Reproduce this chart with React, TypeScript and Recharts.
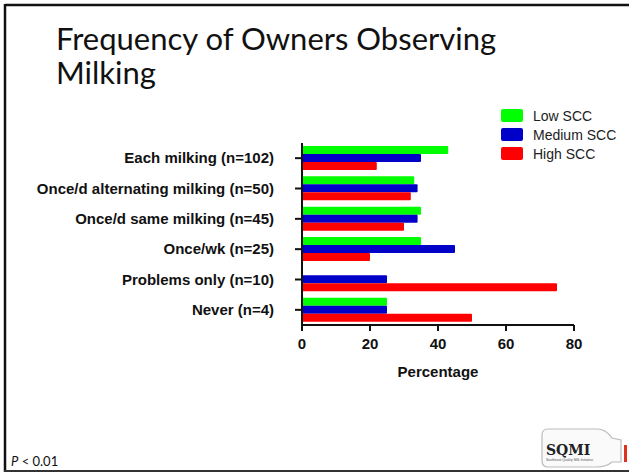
import { Bar, BarChart, Legend, XAxis, YAxis } from "recharts";

const categories = [
    "Each milking (n=102)",
    "Once/d alternating milking (n=50)",
    "Once/d same milking (n=45)",
    "Once/wk (n=25)",
    "Problems only (n=10)",
    "Never (n=4)",
];
const lowScc = [43, 33, 35, 35, 0, 25];
const mediumScc = [35, 34, 34, 45, 25, 25];
const highScc = [22, 32, 30, 20, 75, 50];
const xTicks = [0, 20, 40, 60, 80];

const series = [
    { key: "low", name: "Low SCC", color: "#00ff00" },
    { key: "medium", name: "Medium SCC", color: "#0000c8" },
    { key: "high", name: "High SCC", color: "#ff0000" },
];

const data = categories.map((name, i) => ({
    name,
    low: lowScc[i],
    medium: mediumScc[i],
    high: highScc[i],
}));

const sans = "'Liberation Sans', Arial, sans-serif";
const slideFont = "Lato, 'Open Sans', sans-serif";

// recharts sorts legend items by name, so keep the series order here
function SwatchLegend() {
    return (
        <div style={{ fontFamily: sans, fontSize: 14, color: "#222" }}>
            {series.map((s) => (
                <div
                    key={s.key}
                    style={{ display: "flex", alignItems: "center", height: 19 }}
                >
                    <span
                        style={{
                            display: "inline-block",
                            width: 22,
                            height: 13,
                            borderRadius: 2,
                            background: s.color,
                            marginRight: 10,
                        }}
                    />
                    {s.name}
                </div>
            ))}
        </div>
    );
}

function Slide() {
    return (
        <svg
            width={629}
            height={474}
            style={{ position: "absolute", left: 0, top: 0, pointerEvents: "none" }}
        >
            {/* slide frame */}
            <line x1={5} y1={5} x2={629} y2={5} stroke="#111" strokeWidth={2.5} />
            <line x1={5} y1={4} x2={5} y2={472} stroke="#111" strokeWidth={2.5} />
            <line x1={4} y1={471} x2={629} y2={471} stroke="#333" strokeWidth={2} />

            <text x={11} y={466} fontFamily={slideFont} fontSize={13} fill="#111">
                <tspan fontStyle="italic">P</tspan> &lt; 0.01
            </text>

            {/* SQMI logo */}
            <path
                d="M548 429 L597 429 Q606 429 612 438 L621 440 L621 462 L612 462 Q606 467 597 467 L548 467 Q542 467 542 461 L542 435 Q542 429 548 429 Z"
                fill="#fafafa"
                stroke="#bbb"
                strokeWidth={1.2}
            />
            <rect x={624} y={445} width={3} height={17} fill="#e0301e" />
            <text
                x={546}
                y={455}
                fontFamily="'DejaVu Serif', 'Liberation Serif', serif"
                fontWeight={700}
                fontSize={14}
                fill="#222"
            >
                SQMI
            </text>
            <text x={546} y={461} fontFamily={sans} fontSize={3.4} fill="#555">
                Southeast Quality Milk Initiative
            </text>
        </svg>
    );
}

export default function App() {
    return (
        <div
            style={{
                position: "absolute",
                left: 0,
                top: 0,
                width: 629,
                height: 474,
                background: "#fff",
            }}
        >
            <div style={{ position: "absolute", left: 0, top: 0 }}>
                <BarChart
                    width={629}
                    height={474}
                    data={data}
                    layout="vertical"
                    margin={{ top: 143, right: 55, bottom: 89, left: 0 }}
                    barCategoryGap="10%"
                    barGap={0}
                >
                    <XAxis
                        type="number"
                        domain={[0, 80]}
                        ticks={xTicks}
                        height={60}
                        tickSize={6}
                        tickMargin={7}
                        axisLine={{ stroke: "#111", strokeWidth: 2 }}
                        tickLine={{ stroke: "#111", strokeWidth: 2 }}
                        tick={{
                            fill: "#111",
                            fontSize: 15,
                            fontWeight: 700,
                            fontFamily: sans,
                        }}
                        label={{
                            value: "Percentage",
                            position: "insideBottom",
                            offset: 8,
                            fill: "#111",
                            fontSize: 15,
                            fontWeight: 700,
                            fontFamily: sans,
                        }}
                    />
                    <YAxis
                        type="category"
                        dataKey="name"
                        width={302}
                        tickSize={7}
                        tickMargin={21}
                        interval={0}
                        axisLine={{ stroke: "#111", strokeWidth: 2 }}
                        tickLine={{ stroke: "#111", strokeWidth: 2 }}
                        tick={{
                            fill: "#111",
                            fontSize: 15,
                            fontWeight: 700,
                            fontFamily: sans,
                        }}
                    />
                    <Legend
                        layout="vertical"
                        align="center"
                        verticalAlign="middle"
                        wrapperStyle={{ left: 501, top: 106 }}
                        content={() => <SwatchLegend />}
                    />
                    {series.map((s) => (
                        <Bar
                            key={s.key}
                            dataKey={s.key}
                            name={s.name}
                            fill={s.color}
                            radius={[0, 1, 1, 0]}
                            isAnimationActive={false}
                        />
                    ))}
                </BarChart>
            </div>
            <Slide />
            <div
                style={{
                    position: "absolute",
                    left: 56,
                    top: 21,
                    width: 470,
                    fontFamily: slideFont,
                    fontSize: 31,
                    lineHeight: "34px",
                    color: "#111",
                }}
            >
                Frequency of Owners Observing Milking
            </div>
        </div>
    );
}
